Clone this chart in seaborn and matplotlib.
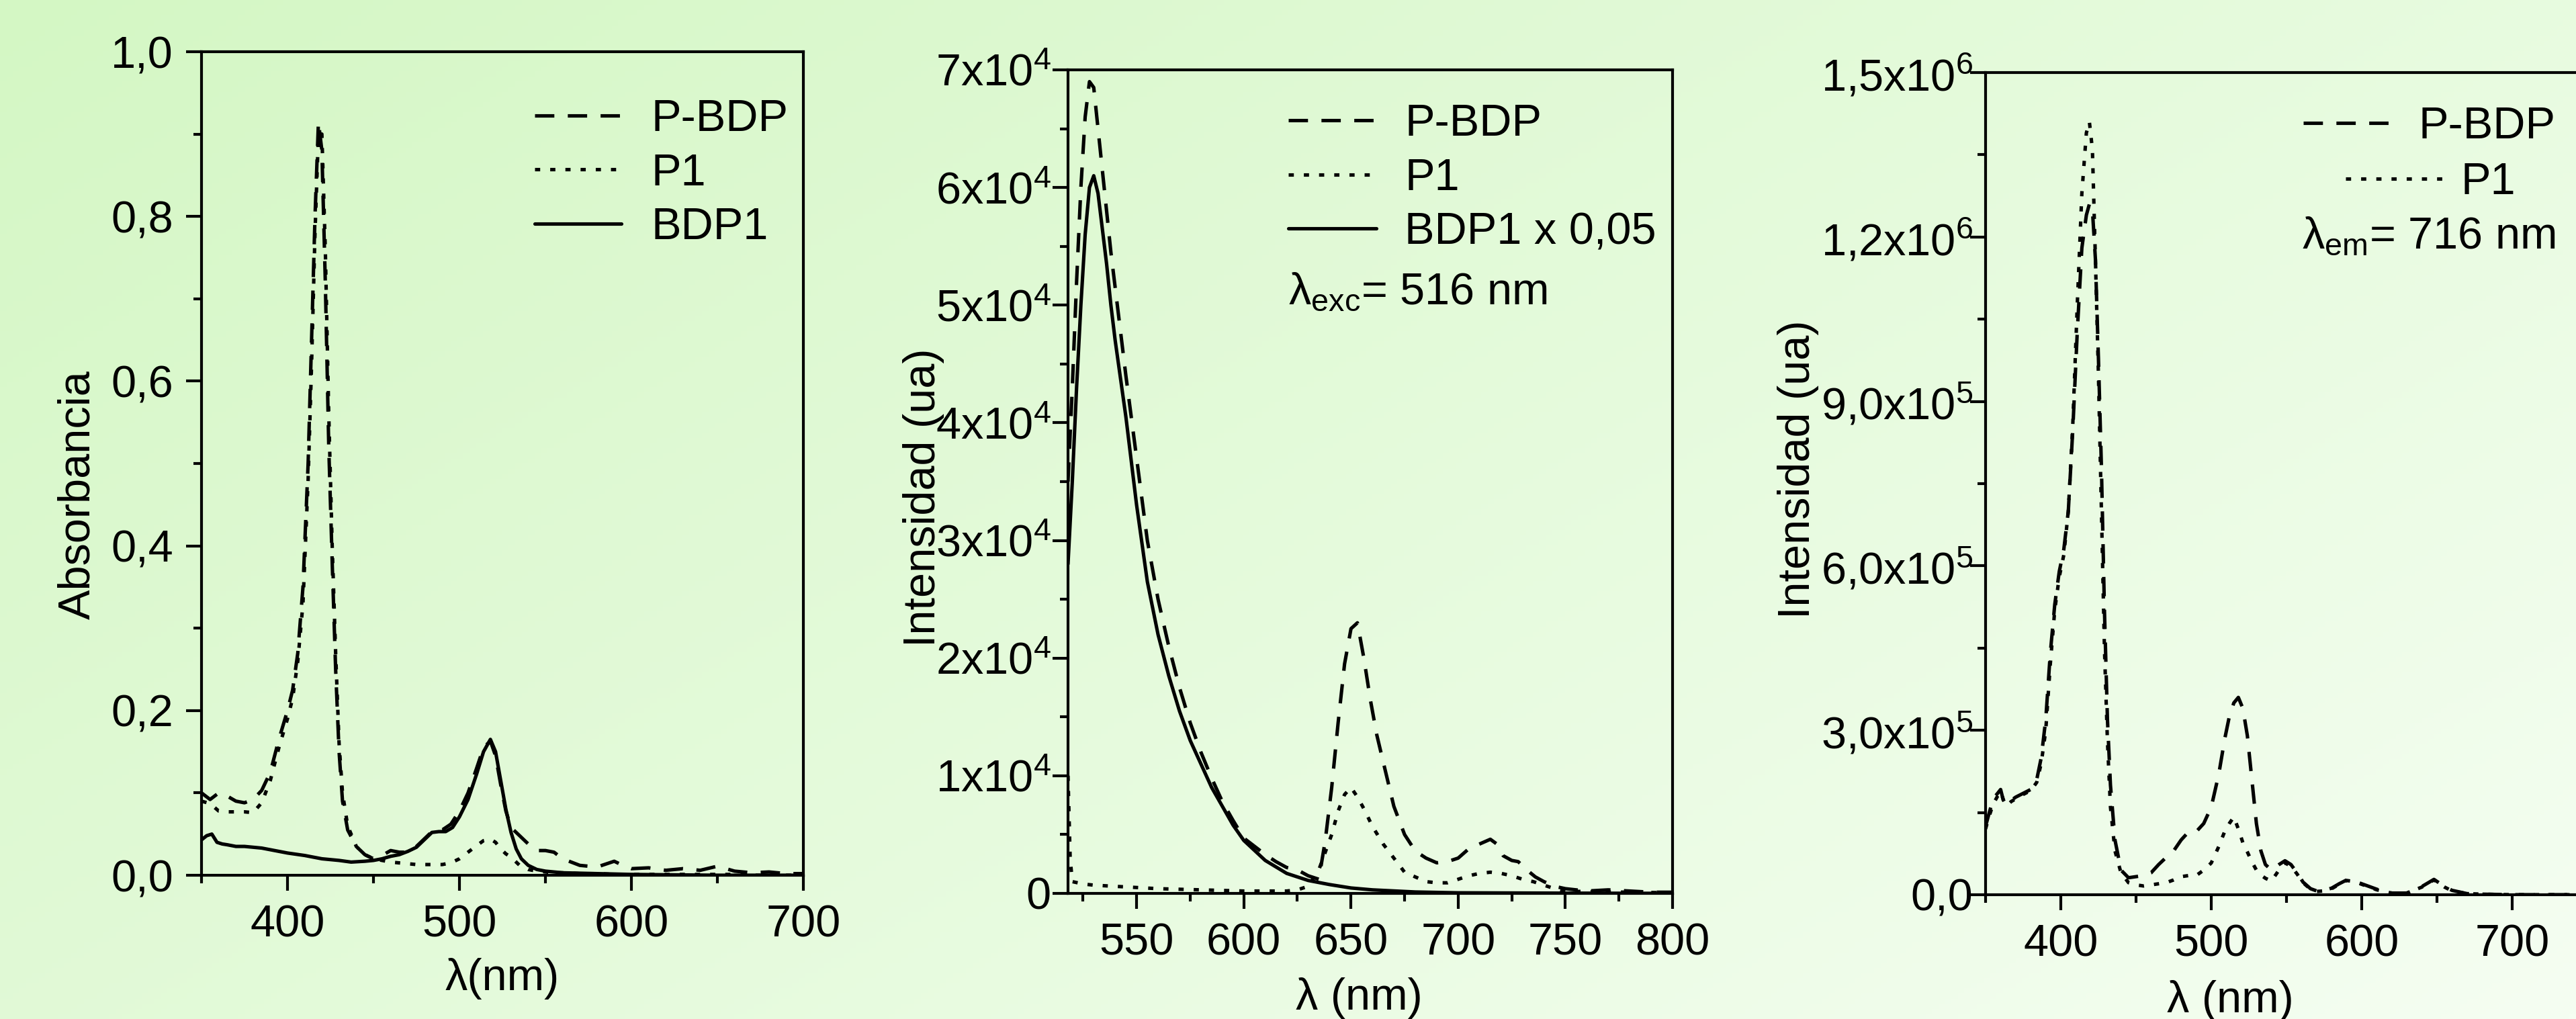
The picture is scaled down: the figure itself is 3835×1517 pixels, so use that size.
import numpy as np
import matplotlib
matplotlib.use("Agg")
import matplotlib.pyplot as plt
from matplotlib.ticker import MultipleLocator, FixedLocator
import seaborn as sns

# ---------------- datos ----------------
# Panel 1: absorbancia
abs_wl = [350, 355, 360, 365, 370, 375, 380, 385, 390, 395, 400, 403, 406, 409,
          412, 414, 416, 418, 420, 422, 424, 426, 428, 430, 432, 435, 440, 445,
          450, 455, 460, 465, 470, 475, 480, 485, 490, 495, 500, 505, 510, 514,
          518, 521, 524, 527, 530, 535, 540, 545, 550, 555, 560, 570, 580, 590,
          595, 600, 610, 620, 630, 640, 650, 655, 660, 670, 680, 690, 700]
abs_pbdp = [0.100, 0.092, 0.100, 0.096, 0.090, 0.088, 0.092, 0.103, 0.125, 0.165,
            0.200, 0.225, 0.270, 0.350, 0.500, 0.650, 0.800, 0.915, 0.880, 0.720,
            0.520, 0.380, 0.250, 0.150, 0.090, 0.055, 0.035, 0.025, 0.020, 0.024,
            0.030, 0.028, 0.028, 0.035, 0.045, 0.055, 0.055, 0.062, 0.078, 0.100,
            0.130, 0.155, 0.163, 0.145, 0.110, 0.078, 0.058, 0.048, 0.038, 0.030,
            0.030, 0.028, 0.020, 0.012, 0.010, 0.017, 0.012, 0.008, 0.009, 0.006,
            0.008, 0.006, 0.011, 0.008, 0.005, 0.003, 0.004, 0.002, 0.002]
abs_p1 = [0.090, 0.087, 0.078, 0.077, 0.077, 0.077, 0.076, 0.088, 0.115, 0.155,
          0.190, 0.215, 0.260, 0.330, 0.480, 0.620, 0.780, 0.900, 0.900, 0.760,
          0.560, 0.400, 0.270, 0.160, 0.100, 0.060, 0.035, 0.025, 0.020, 0.018,
          0.016, 0.015, 0.014, 0.013, 0.013, 0.013, 0.013, 0.015, 0.020, 0.028,
          0.036, 0.042, 0.044, 0.040, 0.032, 0.026, 0.022, 0.012, 0.007, 0.005,
          0.004, 0.003, 0.003, 0.002, 0.002, 0.001, 0.001, 0.001, 0.001, 0.001,
          0.001, 0.001, 0.001, 0.001, 0.001, 0.000, 0.000, 0.000, 0.000]
bdp1_wl = [350, 353, 356, 359, 362, 365, 370, 375, 380, 385, 390, 400, 410, 420,
           430, 437, 445, 450, 455, 460, 465, 470, 475, 480, 484, 488, 492, 496,
           500, 505, 510, 514, 518, 521, 524, 527, 530, 533, 536, 540, 545, 550,
           560, 580, 600, 650, 700]
abs_bdp1 = [0.043, 0.048, 0.050, 0.040, 0.038, 0.037, 0.035, 0.035, 0.034, 0.033,
            0.031, 0.027, 0.024, 0.020, 0.018, 0.016, 0.017, 0.018, 0.020, 0.023,
            0.025, 0.029, 0.034, 0.044, 0.052, 0.053, 0.053, 0.058, 0.071, 0.092,
            0.123, 0.150, 0.165, 0.150, 0.115, 0.080, 0.052, 0.032, 0.020, 0.012,
            0.007, 0.005, 0.003, 0.002, 0.001, 0.000, 0.000]

# Panel 2: emision, lambda_exc = 516 nm
em_wl_bdp1 = [518, 520, 522, 524, 526, 528, 530, 532, 534, 536, 538, 540, 545, 550,
              555, 560, 565, 570, 575, 580, 585, 590, 595, 600, 610, 620, 630, 640,
              650, 660, 680, 700, 750, 800]
em_bdp1 = [2.8e4, 3.5e4, 4.3e4, 5.0e4, 5.6e4, 6.0e4, 6.1e4, 5.95e4, 5.65e4, 5.35e4,
           5.0e4, 4.7e4, 4.05e4, 3.3e4, 2.65e4, 2.2e4, 1.85e4, 1.55e4, 1.3e4, 1.1e4,
           0.9e4, 0.74e4, 0.58e4, 0.45e4, 0.28e4, 0.17e4, 0.11e4, 0.075e4, 0.046e4,
           0.03e4, 0.012e4, 0.005e4, 0.002e4, 0.0]
em_wl_pbdp = [518, 520, 522, 524, 526, 528, 530, 532, 534, 536, 538, 540, 545, 550,
              555, 560, 565, 570, 575, 580, 585, 590, 595, 600, 605, 610, 615, 620,
              625, 630, 635, 638, 641, 644, 647, 650, 653, 656, 659, 662, 665, 670,
              675, 680, 685, 690, 695, 700, 705, 710, 715, 718, 721, 725, 728, 732,
              736, 740, 745, 750, 760, 770, 780, 790, 800]
em_pbdp = [3.5e4, 4.3e4, 5.2e4, 6.0e4, 6.6e4, 6.9e4, 6.85e4, 6.5e4, 6.15e4, 5.8e4,
           5.45e4, 5.15e4, 4.4e4, 3.7e4, 3.0e4, 2.5e4, 2.1e4, 1.75e4, 1.45e4, 1.2e4,
           0.98e4, 0.78e4, 0.62e4, 0.47e4, 0.4e4, 0.33e4, 0.27e4, 0.22e4, 0.2e4,
           0.15e4, 0.12e4, 0.45e4, 0.9e4, 1.45e4, 1.95e4, 2.25e4, 2.3e4, 2.0e4,
           1.65e4, 1.35e4, 1.12e4, 0.74e4, 0.5e4, 0.36e4, 0.3e4, 0.26e4, 0.27e4,
           0.3e4, 0.38e4, 0.42e4, 0.46e4, 0.42e4, 0.32e4, 0.28e4, 0.27e4, 0.2e4,
           0.14e4, 0.1e4, 0.06e4, 0.04e4, 0.02e4, 0.03e4, 0.02e4, 0.01e4, 0.01e4]
em_wl_p1 = [518, 519, 520, 525, 530, 540, 550, 560, 570, 580, 590, 600, 610, 620,
            625, 630, 635, 638, 641, 644, 647, 650, 653, 656, 660, 665, 670, 675,
            680, 685, 690, 695, 700, 705, 710, 715, 720, 725, 730, 735, 740, 745,
            750, 760, 780, 800]
em_p1 = [1.0e4, 0.3e4, 0.1e4, 0.08e4, 0.07e4, 0.06e4, 0.05e4, 0.04e4, 0.035e4,
         0.03e4, 0.025e4, 0.02e4, 0.02e4, 0.02e4, 0.03e4, 0.06e4, 0.2e4, 0.35e4,
         0.5e4, 0.7e4, 0.84e4, 0.9e4, 0.82e4, 0.72e4, 0.57e4, 0.42e4, 0.3e4, 0.18e4,
         0.14e4, 0.1e4, 0.09e4, 0.09e4, 0.12e4, 0.15e4, 0.17e4, 0.18e4, 0.17e4,
         0.15e4, 0.12e4, 0.1e4, 0.07e4, 0.04e4, 0.02e4, 0.015e4, 0.01e4, 0.005e4]

# Panel 3: excitacion, lambda_em = 716 nm
ex_wl = [350, 352, 355, 358, 360, 362, 364, 367, 370, 375, 380, 384, 387, 390,
         393, 396, 399, 402, 405, 408, 411, 414, 417, 419, 421, 423, 425, 427,
         429, 431, 433, 436, 440, 445, 450, 455, 460, 465, 470, 475, 480, 485,
         490, 495, 500, 505, 509, 512, 515, 518, 521, 524, 527, 530, 533, 536,
         540, 545, 549, 553, 557, 561, 566, 570, 575, 580, 585, 590, 595, 600,
         610, 620, 630, 640, 648, 655, 660, 670, 680, 700, 720, 740, 760, 780, 800]
ex_pbdp = [1.25e5, 1.45e5, 1.75e5, 1.85e5, 1.92e5, 1.7e5, 1.65e5, 1.72e5, 1.78e5,
           1.85e5, 1.92e5, 2.1e5, 2.5e5, 3.2e5, 4.4e5, 5.3e5, 5.9e5, 6.3e5, 7.0e5,
           8.5e5, 10.3e5, 11.8e5, 12.4e5, 12.6e5, 12.5e5, 11.6e5, 9.8e5, 7.8e5,
           5.2e5, 3.2e5, 2.0e5, 1.0e5, 0.45e5, 0.31e5, 0.33e5, 0.35e5, 0.4e5,
           0.55e5, 0.68e5, 0.8e5, 1.0e5, 1.15e5, 1.15e5, 1.3e5, 1.6e5, 2.2e5,
           2.85e5, 3.25e5, 3.5e5, 3.6e5, 3.4e5, 2.9e5, 2.1e5, 1.3e5, 0.8e5, 0.55e5,
           0.45e5, 0.55e5, 0.62e5, 0.55e5, 0.4e5, 0.23e5, 0.11e5, 0.07e5, 0.08e5,
           0.12e5, 0.2e5, 0.27e5, 0.25e5, 0.2e5, 0.1e5, 0.03e5, 0.03e5, 0.15e5,
           0.28e5, 0.15e5, 0.08e5, 0.02e5, 0.01e5, 0.0, 0.0, 0.0, 0.0, 0.0, 0.0]
ex_p1 = [1.2e5, 1.4e5, 1.65e5, 1.8e5, 1.88e5, 1.72e5, 1.62e5, 1.7e5, 1.75e5,
         1.83e5, 1.9e5, 2.05e5, 2.4e5, 3.0e5, 4.2e5, 5.2e5, 5.8e5, 6.2e5, 7.0e5,
         8.6e5, 10.8e5, 12.8e5, 13.9e5, 14.1e5, 13.6e5, 11.6e5, 9.5e5, 7.0e5,
         4.5e5, 2.8e5, 1.6e5, 0.8e5, 0.4e5, 0.22e5, 0.18e5, 0.16e5, 0.18e5,
         0.2e5, 0.22e5, 0.27e5, 0.33e5, 0.35e5, 0.35e5, 0.45e5, 0.58e5, 0.88e5,
         1.16e5, 1.3e5, 1.42e5, 1.2e5, 0.95e5, 0.78e5, 0.6e5, 0.45e5, 0.36e5,
         0.3e5, 0.25e5, 0.45e5, 0.58e5, 0.52e5, 0.38e5, 0.22e5, 0.1e5, 0.06e5,
         0.07e5, 0.11e5, 0.19e5, 0.26e5, 0.24e5, 0.19e5, 0.09e5, 0.03e5, 0.03e5,
         0.14e5, 0.27e5, 0.14e5, 0.07e5, 0.02e5, 0.01e5, 0.0, 0.0, 0.0, 0.0, 0.0, 0.0]

# ticks y etiquetas
abs_yticks = [0.0, 0.2, 0.4, 0.6, 0.8, 1.0]
abs_ylabels = ['0,0', '0,2', '0,4', '0,6', '0,8', '1,0']
abs_xticks = [400, 500, 600, 700]
em_yticks = [0, 1e4, 2e4, 3e4, 4e4, 5e4, 6e4, 7e4]
em_ylabels = ['0'] + ['%dx10$^{4}$' % k for k in range(1, 8)]
em_xticks = [550, 600, 650, 700, 750, 800]
ex_yticks = [0, 3e5, 6e5, 9e5, 1.2e6, 1.5e6]
ex_ylabels = ['0,0', '3,0x10$^{5}$', '6,0x10$^{5}$', '9,0x10$^{5}$',
              '1,2x10$^{6}$', '1,5x10$^{6}$']
ex_xticks = [400, 500, 600, 700]
ex_xminor = [350, 450, 550, 650, 750]

# ---------------- estilo ----------------
sns.set_style("ticks")
plt.rcParams['font.family'] = ['Liberation Sans', 'DejaVu Sans']
plt.rcParams['mathtext.fontset'] = 'custom'
plt.rcParams['mathtext.rm'] = 'Liberation Sans'
plt.rcParams['mathtext.it'] = 'Liberation Sans:italic'
plt.rcParams['mathtext.bf'] = 'Liberation Sans:bold'
plt.rcParams['font.size'] = 48
plt.rcParams['axes.edgecolor'] = 'black'
plt.rcParams['axes.linewidth'] = 3.0
plt.rcParams['xtick.color'] = 'black'
plt.rcParams['ytick.color'] = 'black'
plt.rcParams['text.color'] = 'black'
plt.rcParams['axes.labelcolor'] = 'black'

FS = 48
LW = 3.7
DASH = (0, (5.6, 3.9))
DOT = (0, (1.5, 2.9))
SOLID = '-'

W, H = 3835, 1517
fig = plt.figure(figsize=(W / 100, H / 100), dpi=100)

# fondo degradado verde
bg = fig.add_axes([0, 0, 1, 1], zorder=-10)
xx, yy = np.meshgrid(np.linspace(0, 1, 400), np.linspace(0, 1, 200))
t = 0.6 * xx + 0.4 * yy
c0 = np.array([212, 247, 196]) / 255
c1 = np.array([245, 254, 242]) / 255
bg.imshow(c0 + (c1 - c0) * t[..., None], aspect='auto', extent=[0, 1, 0, 1], origin='upper')
bg.axis('off')


def make_axes(left, right, top, bottom):
    ax = fig.add_axes([left / W, 1 - bottom / H, (right - left) / W, (bottom - top) / H])
    ax.set_facecolor('none')
    for s in ax.spines.values():
        s.set_linewidth(3.0)
        s.set_color('black')
    ax.tick_params(which='both', direction='out', width=3.0, top=False, right=False)
    ax.tick_params(which='major', length=16.5)
    ax.tick_params(which='minor', length=8.5)
    return ax


def curve(ax, x, y, ls):
    sns.lineplot(x=x, y=y, ax=ax, color='black', linewidth=LW, linestyle=ls,
                 estimator=None, sort=False)
    return ax.lines[-1]


LEG = dict(frameon=False, borderpad=0, borderaxespad=0, labelspacing=0.28, fontsize=FS)

# ---------------- panel 1 ----------------
ax1 = make_axes(300, 1196, 77, 1303)
h1 = curve(ax1, abs_wl, abs_pbdp, DASH)
h2 = curve(ax1, abs_wl, abs_p1, DOT)
h3 = curve(ax1, bdp1_wl, abs_bdp1, SOLID)
ax1.set_xlim(350, 700)
ax1.set_ylim(0, 1.0)
ax1.set_yticks(abs_yticks)
ax1.set_yticklabels(abs_ylabels, fontsize=FS)
ax1.set_xticks(abs_xticks)
ax1.set_xticklabels([str(v) for v in abs_xticks], fontsize=FS)
ax1.yaxis.set_minor_locator(MultipleLocator(0.1))
ax1.xaxis.set_minor_locator(MultipleLocator(50))
ax1.tick_params(axis='y', pad=14)
ax1.tick_params(axis='x', pad=15)
ax1.set_ylabel('Absorbancia', fontsize=FS, va='center')
ax1.yaxis.set_label_coords(-0.2054, 0.462)
ax1.set_xlabel('λ(nm)', fontsize=FS, va='center')
ax1.xaxis.set_label_coords(0.5, -0.126)
ax1.legend(handles=[h1, h2, h3], labels=['P-BDP', 'P1', 'BDP1'], loc='upper left',
           bbox_to_anchor=(0.5536, 0.943), handlelength=1.93, handletextpad=0.67, **LEG)

# ---------------- panel 2 ----------------
ax2 = make_axes(1590, 2490, 104, 1330)
g1 = curve(ax2, em_wl_pbdp, em_pbdp, DASH)
g2 = curve(ax2, em_wl_p1, em_p1, DOT)
g3 = curve(ax2, em_wl_bdp1, em_bdp1, SOLID)
ax2.set_xlim(518, 800)
ax2.set_ylim(0, 7e4)
ax2.set_yticks(em_yticks)
ax2.set_yticklabels(em_ylabels, fontsize=FS)
ax2.set_xticks(em_xticks)
ax2.set_xticklabels([str(v) for v in em_xticks], fontsize=FS)
ax2.yaxis.set_minor_locator(MultipleLocator(5000))
ax2.xaxis.set_minor_locator(MultipleLocator(25))
ax2.tick_params(axis='y', pad=2)
ax2.tick_params(axis='x', pad=15)
ax2.set_ylabel('Intensidad (ua)', fontsize=FS, va='center')
ax2.yaxis.set_label_coords(-0.2389, 0.481)
ax2.set_xlabel('λ (nm)', fontsize=FS, va='center')
ax2.xaxis.set_label_coords(0.481, -0.127)
ax2.legend(handles=[g1, g2, g3], labels=['P-BDP', 'P1', 'BDP1 x 0,05'], loc='upper left',
           bbox_to_anchor=(0.3644, 0.959), handlelength=1.97, handletextpad=0.63, **LEG)
ax2.text(0.3644, 0.73, 'λ$_{\\mathrm{exc}}$= 516 nm', transform=ax2.transAxes,
         ha='left', va='center', fontsize=FS)

# ---------------- panel 3 ----------------
ax3 = make_axes(2956, 3964, 108, 1332)
k1 = curve(ax3, ex_wl, ex_pbdp, DASH)
k2 = curve(ax3, ex_wl, ex_p1, DOT)
ax3.set_xlim(350, 800)
ax3.set_ylim(0, 1.5e6)
ax3.set_yticks(ex_yticks)
ax3.set_yticklabels(ex_ylabels, fontsize=FS)
ax3.set_xticks(ex_xticks)
ax3.set_xticklabels([str(v) for v in ex_xticks], fontsize=FS)
ax3.yaxis.set_minor_locator(MultipleLocator(1.5e5))
ax3.xaxis.set_minor_locator(FixedLocator(ex_xminor))
ax3.tick_params(axis='y', pad=-3)
ax3.tick_params(axis='x', pad=15)
ax3.set_ylabel('Intensidad (ua)', fontsize=FS, va='center')
ax3.yaxis.set_label_coords(-0.2768, 0.517)
ax3.set_xlabel('λ (nm)', fontsize=FS, va='center')
ax3.xaxis.set_label_coords(0.361, -0.129)
legA = ax3.legend(handles=[k1], labels=['P-BDP'], loc='upper right',
                  bbox_to_anchor=(0.842, 0.959), handlelength=1.94, handletextpad=0.64, **LEG)
ax3.add_artist(legA)
ax3.legend(handles=[k2], labels=['P1'], loc='upper right',
           bbox_to_anchor=(0.783, 0.891), handlelength=2.22, handletextpad=0.36, **LEG)
ax3.text(0.842, 0.80, 'λ$_{\\mathrm{em}}$= 716 nm', transform=ax3.transAxes,
         ha='right', va='center', fontsize=FS)

fig.savefig('out.png', dpi=100)
